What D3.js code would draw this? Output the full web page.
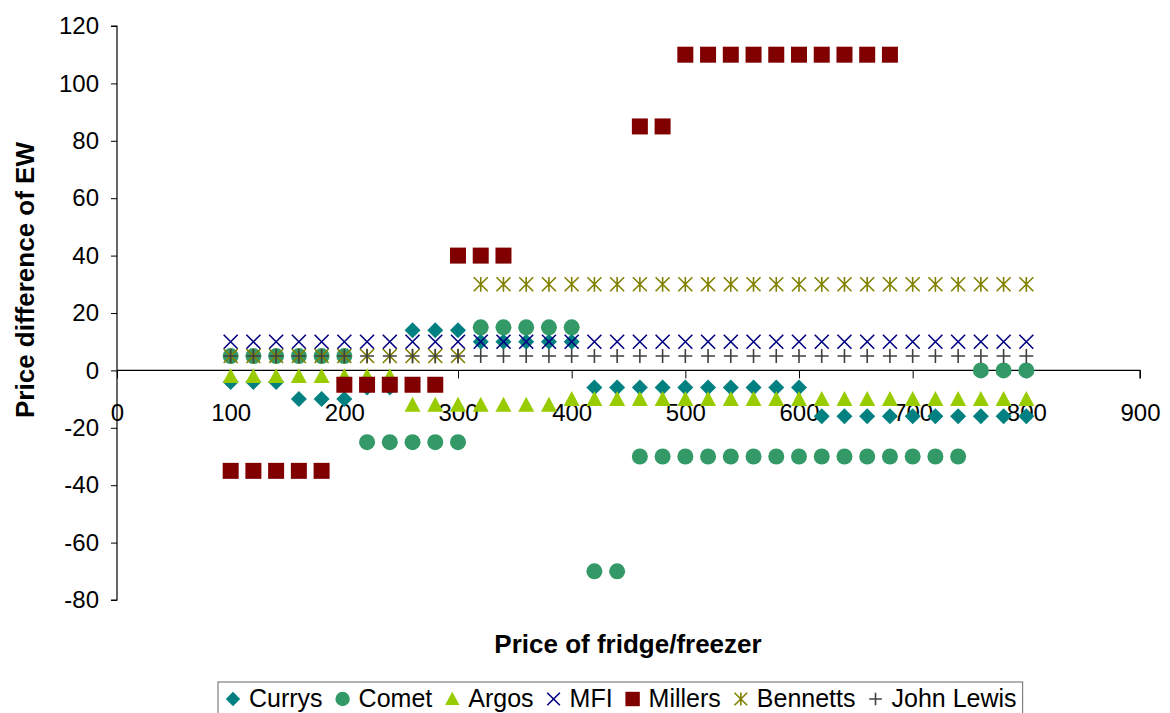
<!DOCTYPE html>
<html>
<head>
<meta charset="utf-8">
<script src="https://cdn.jsdelivr.net/npm/d3@7"></script>
<style>
  html, body { margin: 0; padding: 0; background: #fff; }
  svg { display: block; font-family: "Liberation Sans", Arial, sans-serif; }
</style>
</head>
<body>
<svg id="chart" width="1170" height="713"></svg>
<script>
// Fridge/freezer prices (x) shared by every retailer series
const prices = [100,120,140,160,180,200,220,240,260,280,300,320,340,360,380,400,420,440,
                460,480,500,520,540,560,580,600,620,640,660,680,700,720,740,760,780,800];

// Price difference of EW for each retailer (null = no observation)
const currys = [-4,-4,-4,-10,-10,-10,-6,-6,14,14,14,10,10,10,10,10,-6,-6,
                -6,-6,-6,-6,-6,-6,-6,-6,-16,-16,-16,-16,-16,-16,-16,-16,-16,-16];
const comet = [5,5,5,5,5,5,-25,-25,-25,-25,-25,15,15,15,15,15,-70,-70,
               -30,-30,-30,-30,-30,-30,-30,-30,-30,-30,-30,-30,-30,-30,-30,0,0,0];
const argos = [-2,-2,-2,-2,-2,-2,-2,-2,-12,-12,-12,-12,-12,-12,-12,-10,-10,-10,
               -10,-10,-10,-10,-10,-10,-10,-10,-10,-10,-10,-10,-10,-10,-10,-10,-10,-10];
const mfi = [10,10,10,10,10,10,10,10,10,10,10,10,10,10,10,10,10,10,
             10,10,10,10,10,10,10,10,10,10,10,10,10,10,10,10,10,10];
const millers = [-35,-35,-35,-35,-35,-5,-5,-5,-5,-5,40,40,40,null,null,null,null,null,
                 85,85,110,110,110,110,110,110,110,110,110,110,null,null,null,null,null,null];
const bennetts = [5,5,5,5,5,5,5,5,5,5,5,30,30,30,30,30,30,30,
                  30,30,30,30,30,30,30,30,30,30,30,30,30,30,30,30,30,30];
const johnLewis = [5,5,5,5,5,5,5,5,5,5,5,5,5,5,5,5,5,5,
                   5,5,5,5,5,5,5,5,5,5,5,5,5,5,5,5,5,5];

const seriesNames = ["Currys","Comet","Argos","MFI","Millers","Bennetts","John Lewis"];
const seriesValues = [currys, comet, argos, mfi, millers, bennetts, johnLewis];
const seriesColors = ["#008080","#339966","#99CC00","#000080","#800000","#808000","#404040"];
const seriesShapes = ["diamond","circle","triangle","x","square","star","plus"];

const xTicks = [0,100,200,300,400,500,600,700,800,900];
const yTicks = [-80,-60,-40,-20,0,20,40,60,80,100,120];

const svg = d3.select("#chart");

const x = d3.scaleLinear().domain([0, 900]).range([117, 1140]);
const y = d3.scaleLinear().domain([-80, 120]).range([600, 26]);

// Plain hyphen-minus for negative labels
const plainNumber = d => String(d);

// Marker path generators, centred on the origin
const markerPath = {
  diamond: s => `M0,${-s}L${s},0L0,${s}L${-s},0Z`,
  circle: s => `M${-s},0A${s},${s} 0 1,0 ${s},0A${s},${s} 0 1,0 ${-s},0Z`,
  triangle: s => `M0,${-s}L${s},${s*0.85}L${-s},${s*0.85}Z`,
  square: s => `M${-s},${-s}H${s}V${s}H${-s}Z`,
  x: s => `M${-s},${-s}L${s},${s}M${-s},${s}L${s},${-s}`,
  star: s => `M${-s},${-s}L${s},${s}M${-s},${s}L${s},${-s}M0,${-s*1.05}V${s*1.05}`,
  plus: s => `M${-s},0H${s}M0,${-s}V${s}`
};
const markerSize = { diamond: 8, circle: 8, triangle: 8, square: 8, x: 7, star: 7, plus: 7 };
const filled = { diamond: true, circle: true, triangle: true, square: true, x: false, star: false, plus: false };

function drawMarker(g, shape, color, scale) {
  const s = markerSize[shape] * (scale || 1);
  const p = g.append("path").attr("d", markerPath[shape](s));
  if (filled[shape]) p.attr("fill", color).attr("stroke", "none");
  else p.attr("fill", "none").attr("stroke", color).attr("stroke-width", 1.6);
  return p;
}

// Y axis
const yAxis = d3.axisLeft(y).tickValues(yTicks).tickSize(6).tickPadding(12).tickFormat(plainNumber);
const gy = svg.append("g").attr("transform", `translate(${x(0)},0)`).call(yAxis);
gy.select(".domain").attr("stroke", "#000").attr("stroke-width", 1.2).attr("d", `M-6,${y(120)}H0V${y(-80)}H-6`);
gy.selectAll(".tick line").attr("stroke", "#000");
gy.selectAll(".tick text").attr("font-size", 24).attr("fill", "#000")
  .attr("font-family", "Liberation Sans, Arial, sans-serif");

// X axis crossing at zero
const xAxis = d3.axisBottom(x).tickValues(xTicks).tickSize(8).tickPadding(26).tickFormat(plainNumber);
const gx = svg.append("g").attr("transform", `translate(0,${y(0)})`).call(xAxis);
gx.select(".domain").attr("stroke", "#000").attr("stroke-width", 1.2).attr("d", `M${x(0)},0H${x(900)}V8`);
gx.selectAll(".tick line").attr("stroke", "#000");
gx.selectAll(".tick text").attr("font-size", 24).attr("fill", "#000")
  .attr("font-family", "Liberation Sans, Arial, sans-serif");

// Data markers, series drawn in order so later ones sit on top
seriesValues.forEach((vals, i) => {
  const pts = prices.map((p, j) => ({ x: p, y: vals[j] })).filter(d => d.y !== null);
  const g = svg.append("g").attr("class", "series");
  pts.forEach(d => {
    const m = g.append("g").attr("transform", `translate(${x(d.x)},${y(d.y)})`);
    drawMarker(m, seriesShapes[i], seriesColors[i]);
  });
});

// Axis titles
svg.append("text")
  .attr("x", 628).attr("y", 653)
  .attr("text-anchor", "middle")
  .attr("font-size", 26).attr("font-weight", "bold")
  .text("Price of fridge/freezer");

svg.append("text")
  .attr("transform", `translate(34,${280}) rotate(-90)`)
  .attr("text-anchor", "middle")
  .attr("font-size", 26).attr("font-weight", "bold")
  .text("Price difference of EW");

// Legend
const legend = svg.append("g");
const legendBox = legend.append("rect")
  .attr("x", 218).attr("y", 682).attr("height", 40)
  .attr("fill", "#fff").attr("stroke", "#808080").attr("stroke-width", 1.2);
let lx = 233;
seriesNames.forEach((name, i) => {
  const m = legend.append("g").attr("transform", `translate(${lx},699)`);
  drawMarker(m, seriesShapes[i], seriesColors[i], 0.9);
  const t = legend.append("text")
    .attr("x", lx + 16).attr("y", 707)
    .attr("font-size", 25).attr("fill", "#000")
    .text(name);
  const w = t.node().getComputedTextLength();
  lx = lx + 16 + w + 20;
});
legendBox.attr("width", lx - 20 + 6 - 218);
</script>
</body>
</html>
